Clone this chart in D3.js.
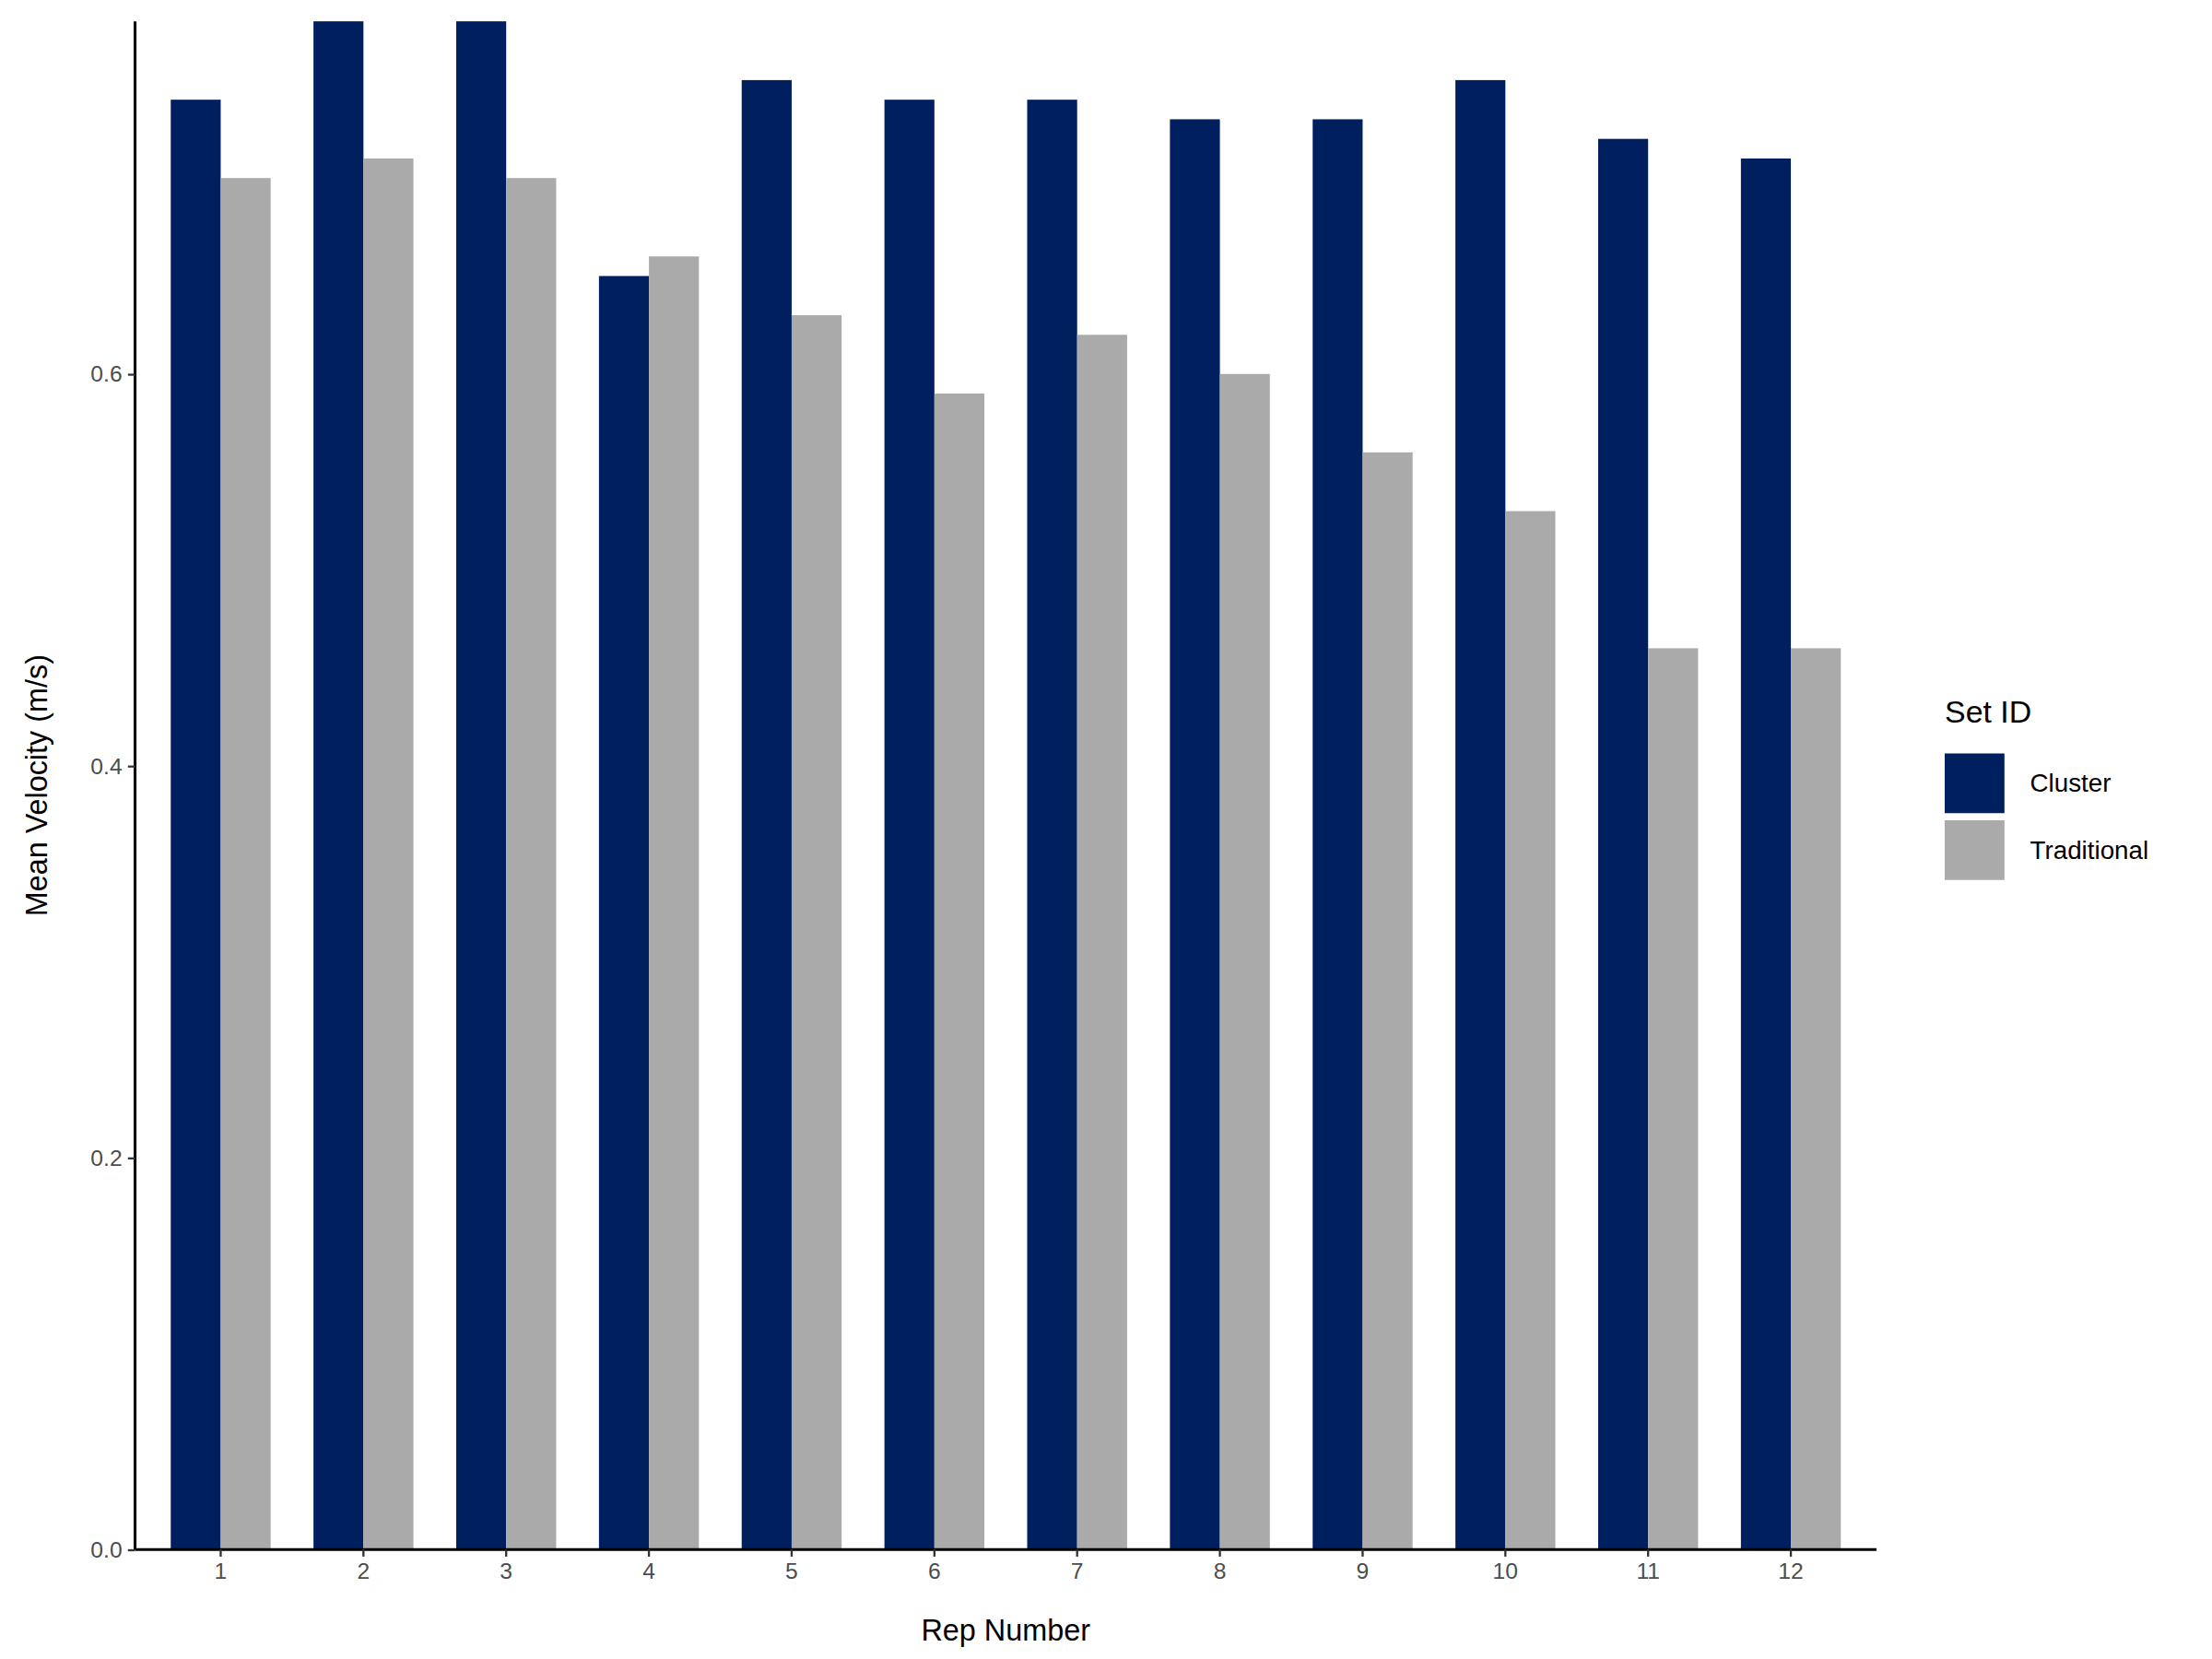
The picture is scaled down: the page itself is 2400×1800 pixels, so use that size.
<!DOCTYPE html>
<html><head><meta charset="utf-8">
<script src="https://cdn.jsdelivr.net/npm/d3@7"></script>
<style>body{margin:0;background:#fff}</style>
</head><body>
<script>
// data
var reps = ["1","2","3","4","5","6","7","8","9","10","11","12"];
var setIds = ["Cluster", "Traditional"];
var cluster = [0.74, 0.78, 0.78, 0.65, 0.75, 0.74, 0.74, 0.73, 0.73, 0.75, 0.72, 0.71];
var traditional = [0.70, 0.71, 0.70, 0.66, 0.63, 0.59, 0.62, 0.60, 0.56, 0.53, 0.46, 0.46];
var yTicks = [0.0, 0.2, 0.4, 0.6];
var colors = {"Cluster": "#001f5f", "Traditional": "#aaaaaa"};

var svg = d3.select("body").append("svg")
  .attr("width", 2400).attr("height", 1800)
  .attr("viewBox", "0 0 1556 1167");

var mLeft = 95, mRight = 1320, mTop = 15, mBottom = 1090;

var x = d3.scaleBand().domain(reps).range([mLeft, mRight]).paddingInner(0.3).paddingOuter(0.25);
var xSub = d3.scaleBand().domain(setIds).range([0, x.bandwidth()]);
var y = d3.scaleLinear().domain([0, 0.78]).range([mBottom, mTop]);

var rows = reps.map((r, i) => ({rep: r, Cluster: cluster[i], Traditional: traditional[i]}));

var g = svg.append("g");
rows.forEach(row => {
  setIds.forEach(s => {
    g.append("rect")
      .attr("x", x(row.rep) + xSub(s))
      .attr("width", xSub.bandwidth())
      .attr("y", y(row[s]))
      .attr("height", y(0) - y(row[s]))
      .attr("fill", colors[s]);
  });
});

// axes
var xAxis = svg.append("g").attr("transform", "translate(0," + mBottom + ")")
  .call(d3.axisBottom(x).tickSizeOuter(0).tickSize(5).tickPadding(4));
var yAxis = svg.append("g").attr("transform", "translate(" + mLeft + ",0)")
  .call(d3.axisLeft(y).tickValues(yTicks).tickFormat(d3.format(".1f")).tickSizeOuter(0).tickSize(5).tickPadding(4));
[xAxis, yAxis].forEach(a => {
  a.select(".domain").attr("stroke", "#000").attr("stroke-width", 2);
  a.selectAll(".tick line").attr("stroke", "#333").attr("stroke-width", 1.5);
  a.selectAll(".tick text").attr("fill", "#4d4d4d")
    .style("font-family", "Liberation Sans, Arial, sans-serif").style("font-size", "16px");
});
xAxis.select(".domain").attr("d", "M" + mLeft + ",0H" + mRight);
yAxis.select(".domain").attr("d", "M0," + (mBottom - mBottom) + "V" + (mTop - mBottom)).attr("transform", "translate(0," + mBottom + ")");

svg.append("text").attr("x", (mLeft + mRight) / 2).attr("y", 1154).attr("text-anchor", "middle")
  .style("font-family", "Liberation Sans, Arial, sans-serif").style("font-size", "21px").text("Rep Number");
svg.append("text").attr("transform", "translate(33," + ((mTop + mBottom) / 2) + ") rotate(-90)")
  .attr("text-anchor", "middle")
  .style("font-family", "Liberation Sans, Arial, sans-serif").style("font-size", "21px").text("Mean Velocity (m/s)");

// legend
var lg = svg.append("g").style("font-family", "Liberation Sans, Arial, sans-serif");
lg.append("text").attr("x", 1368).attr("y", 508).style("font-size", "22px").text("Set ID");
setIds.forEach((s, i) => {
  lg.append("rect").attr("x", 1368).attr("y", 530 + i * 47).attr("width", 42).attr("height", 42).attr("fill", colors[s]);
  lg.append("text").attr("x", 1428).attr("y", 557 + i * 47).style("font-size", "18px").text(s);
});
</script>
</body></html>
